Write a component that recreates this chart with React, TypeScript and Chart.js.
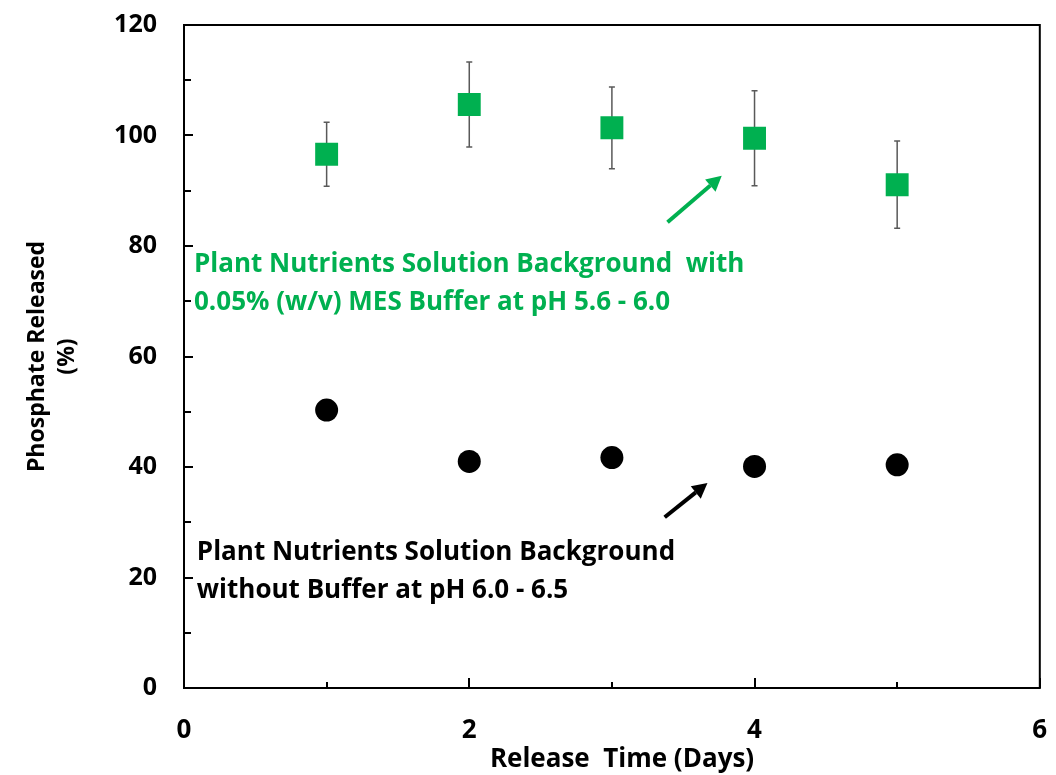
import React, { useEffect, useRef } from "react";
import { Chart, registerables } from "chart.js";

Chart.register(...registerables);

const days = [1, 2, 3, 4, 5];
const mesValues = [96.6, 105.6, 101.4, 99.5, 91.1];
const mesErrors = [5.8, 7.7, 7.4, 8.6, 7.9];
const noBufferValues = [50.3, 41.0, 41.7, 40.1, 40.4];

const xTicks = [0, 2, 4, 6];
const yTicks = [0, 20, 40, 60, 80, 100, 120];
const xMinorTicks = [1, 3, 5];
const yMinorTicks = [10, 30, 50, 70, 90, 110];

const greenLabel = ["Plant Nutrients Solution Background  with", "0.05% (w/v) MES Buffer at pH 5.6 - 6.0"];
const blackLabel = ["Plant Nutrients Solution Background", "without Buffer at pH 6.0 - 6.5"];
// annotation anchors in data units
const greenLabelAt = [0.07, 76.6];
const blackLabelAt = [0.09, 24.5];
const greenArrow = [3.39, 84.3, 3.77, 92.7];
const blackArrow = [3.37, 30.9, 3.67, 37.1];

const GREEN = "#00B050";
const FONT = "'Open Sans', Lato, sans-serif";

function drawArrow(ctx: CanvasRenderingContext2D, x1: number, y1: number, x2: number, y2: number, color: string) {
  const ang = Math.atan2(y2 - y1, x2 - x1);
  const headLen = 15;
  const headW = 8;
  const bx = x2 - headLen * Math.cos(ang);
  const by = y2 - headLen * Math.sin(ang);
  ctx.save();
  ctx.strokeStyle = color;
  ctx.fillStyle = color;
  ctx.lineWidth = 4;
  ctx.beginPath();
  ctx.moveTo(x1, y1);
  ctx.lineTo(bx, by);
  ctx.stroke();
  ctx.beginPath();
  ctx.moveTo(x2, y2);
  ctx.lineTo(bx + headW * Math.sin(ang), by - headW * Math.cos(ang));
  ctx.lineTo(bx - headW * Math.sin(ang), by + headW * Math.cos(ang));
  ctx.closePath();
  ctx.fill();
  ctx.restore();
}

const zeroPad = (s: any) => {
  s.paddingTop = 0;
  s.paddingBottom = 0;
  s.paddingLeft = 0;
  s.paddingRight = 0;
};

const decorPlugin = {
  id: "decor",
  beforeDatasetsDraw(chart: any) {
    const { ctx, scales } = chart;
    const xs = scales.x;
    const ys = scales.y;
    ctx.save();
    ctx.strokeStyle = "#595959";
    ctx.lineWidth = 1.5;
    days.forEach((d, i) => {
      const px = xs.getPixelForValue(d);
      const top = ys.getPixelForValue(mesValues[i] + mesErrors[i]);
      const bot = ys.getPixelForValue(mesValues[i] - mesErrors[i]);
      ctx.beginPath();
      ctx.moveTo(px, top);
      ctx.lineTo(px, bot);
      ctx.moveTo(px - 3, top);
      ctx.lineTo(px + 3, top);
      ctx.moveTo(px - 3, bot);
      ctx.lineTo(px + 3, bot);
      ctx.stroke();
    });
    ctx.restore();
  },
  afterDraw(chart: any) {
    const { ctx, chartArea, scales } = chart;
    const xs = scales.x;
    const ys = scales.y;
    const { left, right, top, bottom } = chartArea;
    ctx.save();
    ctx.strokeStyle = "#000";
    ctx.lineWidth = 2;
    ctx.strokeRect(left, top, right - left, bottom - top);
    ctx.beginPath();
    yTicks.forEach((v) => {
      const p = Math.round(ys.getPixelForValue(v));
      ctx.moveTo(left, p);
      ctx.lineTo(left + 9, p);
    });
    yMinorTicks.forEach((v) => {
      const p = Math.round(ys.getPixelForValue(v));
      ctx.moveTo(left, p);
      ctx.lineTo(left + 7, p);
    });
    xTicks.forEach((v) => {
      const p = Math.round(xs.getPixelForValue(v));
      ctx.moveTo(p, bottom);
      ctx.lineTo(p, bottom - 10);
    });
    xMinorTicks.forEach((v) => {
      const p = Math.round(xs.getPixelForValue(v));
      ctx.moveTo(p, bottom);
      ctx.lineTo(p, bottom - 6);
    });
    ctx.stroke();

    ctx.font = `bold 26px ${FONT}`;
    ctx.textBaseline = "middle";
    ctx.textAlign = "left";
    ctx.fillStyle = GREEN;
    const gx = xs.getPixelForValue(greenLabelAt[0]);
    const gy = ys.getPixelForValue(greenLabelAt[1]);
    greenLabel.forEach((t, i) => ctx.fillText(t, gx, gy + i * 38));
    ctx.fillStyle = "#000";
    const bx = xs.getPixelForValue(blackLabelAt[0]);
    const by = ys.getPixelForValue(blackLabelAt[1]);
    blackLabel.forEach((t, i) => ctx.fillText(t, bx, by + i * 38));

    drawArrow(ctx, xs.getPixelForValue(greenArrow[0]), ys.getPixelForValue(greenArrow[1]), xs.getPixelForValue(greenArrow[2]), ys.getPixelForValue(greenArrow[3]), GREEN);
    drawArrow(ctx, xs.getPixelForValue(blackArrow[0]), ys.getPixelForValue(blackArrow[1]), xs.getPixelForValue(blackArrow[2]), ys.getPixelForValue(blackArrow[3]), "#000");
    ctx.restore();
  },
};

export default function App() {
  const ref = useRef<HTMLCanvasElement | null>(null);
  useEffect(() => {
    if (!ref.current) return;
    const chart = new Chart(ref.current, {
      type: "scatter",
      data: {
        datasets: [
          {
            label: "MES",
            data: days.map((d, i) => ({ x: d, y: mesValues[i] })),
            pointStyle: "rect",
            pointRadius: 16.2,
            backgroundColor: GREEN,
            borderColor: GREEN,
            borderWidth: 0,
          },
          {
            label: "No buffer",
            data: days.map((d, i) => ({ x: d, y: noBufferValues[i] })),
            pointStyle: "circle",
            pointRadius: 11.5,
            backgroundColor: "#000",
            borderColor: "#000",
            borderWidth: 0,
          },
        ],
      },
      options: {
        responsive: false,
        animation: false,
        layout: { padding: { top: 25, right: 11, left: 0, bottom: 0 } },
        plugins: { legend: { display: false }, tooltip: { enabled: false } },
        scales: {
          x: {
            type: "linear",
            min: 0,
            max: 6,
            afterBuildTicks: (s: any) => {
              s.ticks = xTicks.map((v) => ({ value: v }));
            },
            afterFit: (s: any) => {
              s.height = 87;
              zeroPad(s);
            },
            grid: { display: false, drawTicks: false },
            border: { display: false },
            ticks: {
              color: "#000",
              padding: 27,
              maxRotation: 0,
              font: { family: FONT, size: 26, weight: "bold" },
            },
            title: {
              display: true,
              text: "   Release  Time (Days)",
              color: "#000",
              font: { family: FONT, size: 26, weight: "bold" },
              padding: { top: 0, bottom: 0 },
            },
          },
          y: {
            type: "linear",
            min: 0,
            max: 120,
            afterBuildTicks: (s: any) => {
              s.ticks = yTicks.map((v) => ({ value: v }));
            },
            afterFit: (s: any) => {
              s.width = 184;
              zeroPad(s);
            },
            grid: { display: false, drawTicks: false },
            border: { display: false },
            ticks: {
              color: "#000",
              padding: 27,
              font: { family: FONT, size: 25, weight: "bold" },
            },
            title: {
              display: true,
              text: ["Phosphate Released", "(%)"],
              color: "#000",
              font: { family: FONT, size: 23, weight: "bold", lineHeight: 1.3 },
              padding: { top: 23, bottom: 0 },
            },
          },
        },
      },
      plugins: [decorPlugin],
    } as any);
    return () => chart.destroy();
  }, []);
  return (
    <div style={{ position: "fixed", left: 0, top: 0, width: 1056, height: 775, background: "#fff" }}>
      <canvas ref={ref} width={1056} height={775} style={{ width: 1056, height: 775, display: "block" }} />
    </div>
  );
}
